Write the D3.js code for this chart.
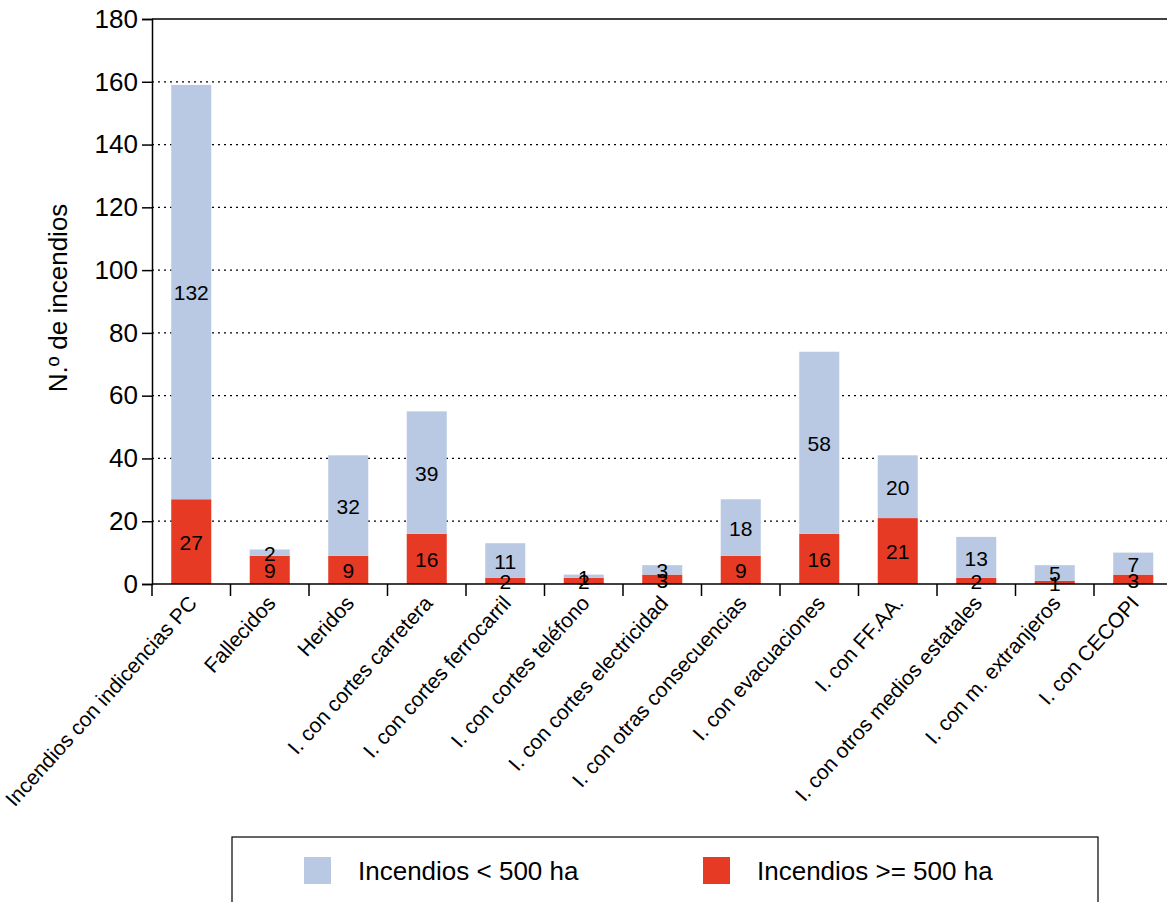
<!DOCTYPE html>
<html>
<head>
<meta charset="utf-8">
<script src="https://cdn.jsdelivr.net/npm/d3@7"></script>
<style>
  body { margin: 0; background: #fff; }
  svg { font-family: "Liberation Sans", Arial, sans-serif; }
</style>
</head>
<body>
<div id="chart"></div>
<script>
var categories = ["Incendios con indicencias PC", "Fallecidos", "Heridos", "I. con cortes carretera",
  "I. con cortes ferrocarril", "I. con cortes teléfono", "I. con cortes electricidad",
  "I. con otras consecuencias", "I. con evacuaciones", "I. con FF.AA.",
  "I. con otros medios estatales", "I. con m. extranjeros", "I. con CECOPI"];
var grandes = [27, 9, 9, 16, 2, 2, 3, 9, 16, 21, 2, 1, 3];     // >= 500 ha
var pequenos = [132, 2, 32, 39, 11, 1, 3, 18, 58, 20, 13, 5, 7]; // < 500 ha
var yTicks = [0, 20, 40, 60, 80, 100, 120, 140, 160, 180];
var seriesNames = ["Incendios < 500 ha", "Incendios >= 500 ha"];

var W = 1167, H = 902;
var mLeft = 152, mRight = 1172.5, mTop = 19, mBottom = 584;
var blue = "#b9c9e3", red = "#e63a24";

var svg = d3.select("#chart").append("svg")
  .attr("width", W).attr("height", H);

var x = d3.scaleBand().domain(categories).range([mLeft, mRight]).paddingInner(0.49).paddingOuter(0.245);
var y = d3.scaleLinear().domain([0, 180]).range([mBottom, mTop]);

// grid lines
svg.selectAll(".grid")
  .data(yTicks.filter(function(d) { return d > 0; }))
  .enter().append("line")
  .attr("x1", mLeft).attr("x2", W)
  .attr("y1", function(d) { return y(d); })
  .attr("y2", function(d) { return y(d); })
  .attr("stroke", "#000")
  .attr("stroke-width", function(d) { return d == 180 ? 1.5 : 1.2; })
  .attr("stroke-dasharray", function(d) { return d == 180 ? null : "2,4"; });

var data = categories.map(function(c, i) {
  return { cat: c, g: grandes[i], p: pequenos[i] };
});

// bars
var groups = svg.selectAll(".bar").data(data).enter().append("g");
groups.append("rect")
  .attr("x", function(d) { return x(d.cat); })
  .attr("width", x.bandwidth())
  .attr("y", function(d) { return y(d.g); })
  .attr("height", function(d) { return y(0) - y(d.g); })
  .attr("fill", red);
groups.append("rect")
  .attr("x", function(d) { return x(d.cat); })
  .attr("width", x.bandwidth())
  .attr("y", function(d) { return y(d.g + d.p); })
  .attr("height", function(d) { return y(d.g) - y(d.g + d.p); })
  .attr("fill", blue);

// value labels
groups.append("text")
  .attr("x", function(d) { return x(d.cat) + x.bandwidth() / 2; })
  .attr("y", function(d) { return y(d.g / 2); })
  .attr("dy", "0.4em")
  .attr("text-anchor", "middle")
  .attr("font-size", 21)
  .text(function(d) { return d.g; });
groups.append("text")
  .attr("x", function(d) { return x(d.cat) + x.bandwidth() / 2; })
  .attr("y", function(d) { return y(d.g + d.p / 2); })
  .attr("dy", "0.4em")
  .attr("text-anchor", "middle")
  .attr("font-size", 21)
  .text(function(d) { return d.p; });

// y axis
var yAxis = svg.append("g")
  .attr("transform", "translate(" + mLeft + ",0)")
  .call(d3.axisLeft(y).tickValues(yTicks).tickSize(10).tickPadding(4));
yAxis.select(".domain").attr("stroke", "#000").attr("stroke-width", 1.5);
yAxis.selectAll("line").attr("stroke", "#000").attr("stroke-width", 1.5);
yAxis.selectAll("text").attr("font-size", 26).attr("fill", "#000").attr("font-family", "Liberation Sans, Arial, sans-serif");

// x axis
var step = x.step();
var xb = svg.append("g");
xb.append("line").attr("x1", mLeft).attr("x2", W).attr("y1", mBottom).attr("y2", mBottom)
  .attr("stroke", "#000").attr("stroke-width", 1.5);
xb.selectAll(".tk").data(d3.range(categories.length + 1)).enter().append("line")
  .attr("x1", function(i) { return mLeft + i * step; })
  .attr("x2", function(i) { return mLeft + i * step; })
  .attr("y1", mBottom).attr("y2", mBottom + 12)
  .attr("stroke", "#000").attr("stroke-width", 1.5);
xb.selectAll(".lbl").data(categories).enter().append("text")
  .attr("transform", function(d) {
    return "translate(" + (x(d) + x.bandwidth() / 2 + 7) + "," + (mBottom + 20) + ") rotate(-48)";
  })
  .attr("text-anchor", "end")
  .attr("font-size", 21)
  .text(function(d) { return d; });

// y title
svg.append("text")
  .attr("transform", "translate(67," + 298 + ") rotate(-90)")
  .attr("text-anchor", "middle")
  .attr("font-size", 26)
  .text("N.º de incendios");

// legend
var lg = svg.append("g");
lg.append("rect").attr("x", 232).attr("y", 837).attr("width", 866).attr("height", 80)
  .attr("fill", "none").attr("stroke", "#000").attr("stroke-width", 1.2);
var lx = [304, 703], lc = [blue, red];
seriesNames.forEach(function(n, i) {
  lg.append("rect").attr("x", lx[i]).attr("y", 857).attr("width", 27).attr("height", 27).attr("fill", lc[i]);
  lg.append("text").attr("x", lx[i] + 54).attr("y", 871).attr("dy", "0.36em")
    .attr("font-size", 26).text(n);
});
</script>
</body>
</html>
